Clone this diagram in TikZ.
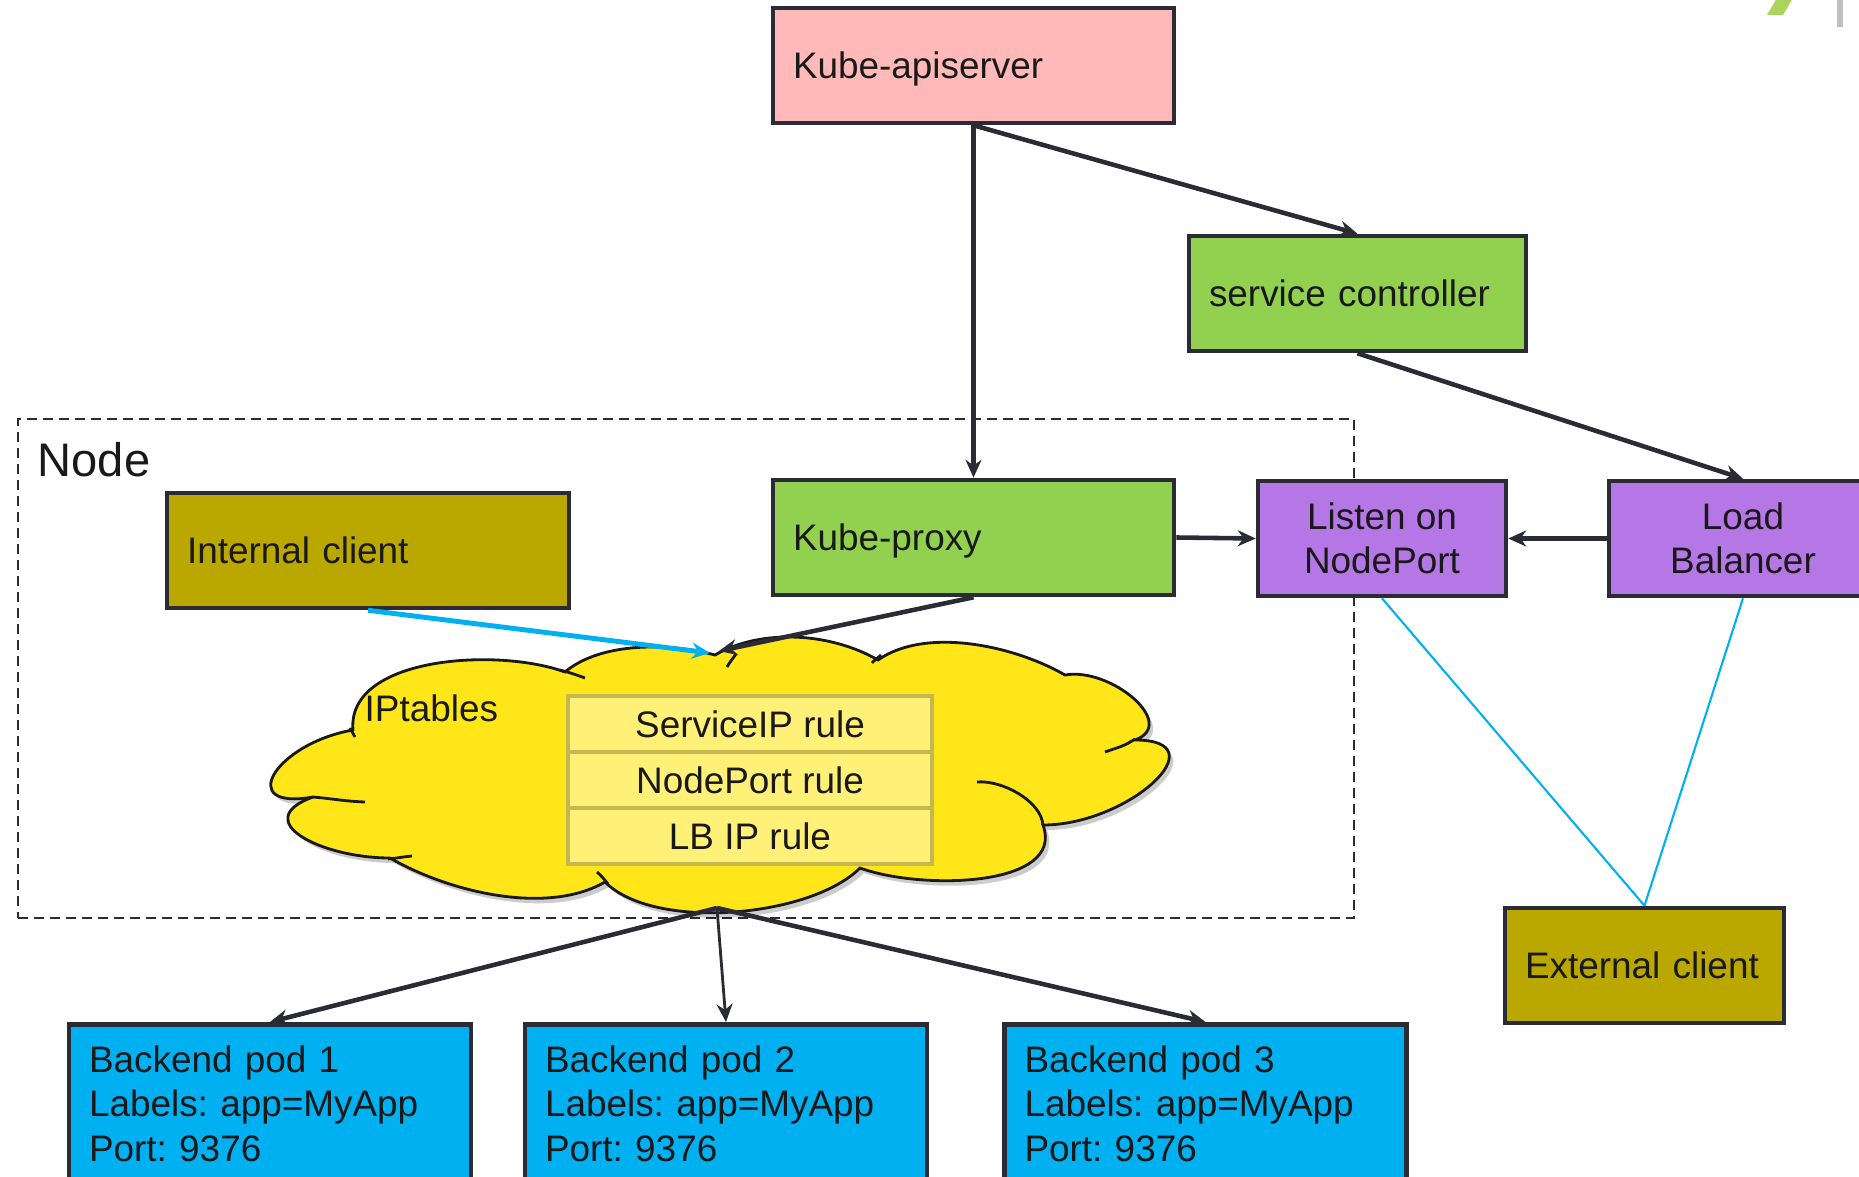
\documentclass[tikz,border=0pt]{standalone}
\usepackage{fontspec}
\setmainfont{Liberation Sans}
\usetikzlibrary{arrows.meta}
\frenchspacing

\definecolor{edgegray}{RGB}{43,43,54}
\definecolor{apipink}{RGB}{255,185,185}
\definecolor{ctrlgreen}{RGB}{146,208,80}
\definecolor{clientolive}{RGB}{186,168,0}
\definecolor{portpurple}{RGB}{181,119,230}
\definecolor{podblue}{RGB}{0,176,240}
\definecolor{cloudyellow}{RGB}{255,230,25}
\definecolor{rulefill}{RGB}{255,240,120}
\definecolor{rulebrd}{RGB}{198,184,80}
\definecolor{lineblue}{RGB}{0,176,240}
\definecolor{decogreen}{RGB}{172,212,92}
\definecolor{decogray}{RGB}{192,192,192}

% outline of the IPtables cloud (px coords)
\newcommand{\iptcloud}{(715,655) to[out=30,in=150,looseness=0.85] (878,660) to[out=35,in=150,looseness=0.8] (1065,675)
  to[out=10,in=20,looseness=1.25] (1135,740) to[out=0,in=0,looseness=1.75] (1043,825)
  to[out=-70,in=-20,looseness=0.9] (860,868) to[out=-135,in=-45,looseness=0.7] (605,882)
  to[out=-150,in=-30,looseness=0.8] (390,858) to[out=180,in=200,looseness=1.8] (313,797)
  to[out=190,in=190,looseness=2.6] (353,730) to[out=95,in=160,looseness=0.85] (565,672)
  to[out=40,in=165,looseness=0.8] (715,655) -- cycle}

\begin{document}
\begin{tikzpicture}[
  x=0.1mm, y=-0.1mm,
  font=\fontsize{10.5}{12.6}\selectfont,
  text=black!90,
  >={Stealth[length=1.8mm, width=1.6mm]},
  lbox/.style 2 args={rectangle, draw=edgegray, line width=1.3pt, fill=#1,
              text width=#2, inner xsep=2mm, inner ysep=0pt,
              minimum height=11.5mm, align=left},
  cbox/.style 2 args={rectangle, draw=edgegray, line width=1.3pt, fill=#1,
              minimum width=#2, inner sep=0pt,
              minimum height=11.5mm, align=center},
  oneline/.style={text depth=0pt},
  rule/.style={rectangle, draw=rulebrd, line width=1pt, fill=rulefill,
              minimum width=36.4mm, minimum height=5.6mm, inner sep=0pt},
  frame/.style={rectangle, draw=edgegray, line width=0.6pt,
              dash pattern=on 1mm off 0.6mm, inner sep=0pt},
  link/.style={->, draw=edgegray, line width=1.3pt},
  wire/.style={draw=lineblue, line width=0.6pt},
]
\useasboundingbox (0,0) rectangle (1859,1177);
\clip (0,0) rectangle (1859,1177);

% ================= NODES (explicit coords, px) =================
\node[frame, minimum width=133.6mm, minimum height=49.9mm] (nodebox) at (686,668.5) {};
\node[anchor=west, inner sep=0pt, font=\fontsize{13.4}{16}\selectfont] (nodelbl) at (37,460) {Node};

\node[lbox={apipink}{36.1mm}, oneline]     (api)    at (973.5,65.5)   {Kube-apiserver};
\node[lbox={ctrlgreen}{29.7mm}, oneline]   (svc)    at (1357.5,293.5) {service controller};

\node[lbox={clientolive}{36.2mm}, oneline] (client) at (368,550.5)    {Internal client};
\node[lbox={ctrlgreen}{36.1mm}, oneline]   (proxy)  at (973.5,537.5)  {Kube-proxy};
\node[cbox={portpurple}{24.8mm}]           (listen) at (1382,538.5)   {Listen on\\NodePort};
\node[cbox={portpurple}{26.8mm}]           (lb)     at (1743,538.5)   {Load\\Balancer};

% IPtables cloud + rules
\fill[black, opacity=0.2, shift={(4,5)}] \iptcloud;
\filldraw[fill=cloudyellow, draw=black!90, line width=0.8pt] \iptcloud;
\draw[black!90, line width=0.8pt]
  (1043,825) to[out=95,in=5,looseness=0.8] (977,782)
  (1135,739) to[out=215,in=20] (1105,752)
  (313,797) to[out=-5,in=178] (365,802)
  (388,859) to[out=5,in=185] (412,856)
  (560,670) to[out=-15,in=160] (585,678)
  (608,884) to[out=130,in=-40] (597,872)
  (736,654) to[out=235,in=60] (727,667)
  (881,655) to[out=225,in=50] (872,663)
  (350,728) -- (355,737);

\node[anchor=west, inner sep=0pt] (iptlbl) at (364,708) {IPtables};
\node[rule] (svcrule)  at (750,724) {ServiceIP rule};
\node[rule] (portrule) at (750,780) {NodePort rule};
\node[rule] (lbrule)   at (750,836) {LB IP rule};
\coordinate (cldin)  at (710,653);
\coordinate (cldtop) at (719,651);
\coordinate (cldbot) at (717,908);

\node[lbox={clientolive}{23.9mm}, oneline] (ext)    at (1644.5,965.5) {External client};

\node[lbox={podblue}{36.2mm}, minimum height=15.9mm, anchor=north] (pod1) at (270,1022)    {Backend pod 1\\Labels: app=MyApp\\Port: 9376};
\node[lbox={podblue}{36.2mm}, minimum height=15.9mm, anchor=north] (pod2) at (726,1022)    {Backend pod 2\\Labels: app=MyApp\\Port: 9376};
\node[lbox={podblue}{36.2mm}, minimum height=15.9mm, anchor=north] (pod3) at (1205.5,1022) {Backend pod 3\\Labels: app=MyApp\\Port: 9376};

% ================= EDGES =================
\draw[link] (api.south) -- (proxy.north);
\draw[link] (api.south) -- (svc.north);
\draw[link] (svc.south) -- (lb.north);

\draw[link] (proxy.east) -- (listen.west);
\draw[link] (lb.west) -- (listen.east);

\draw[->, draw=lineblue, line width=1.4pt] (client.south) -- (cldin);
\draw[link] (proxy.south) -- (cldtop);

\draw[link] (cldbot) -- (pod1.north);
\draw[link, line width=0.8pt] (cldbot) -- (pod2.north);
\draw[link] (cldbot) -- (pod3.north);

\draw[wire] (listen.south) -- (ext.north);
\draw[wire] (lb.south) -- (ext.north);

% slide corner marks
\fill[decogreen] (1777,-2) -- (1793,-2) -- (1783,15) -- (1767,15) -- cycle;
\fill[decogray] (1837,-2) rectangle (1843,27);

\end{tikzpicture}
\end{document}
